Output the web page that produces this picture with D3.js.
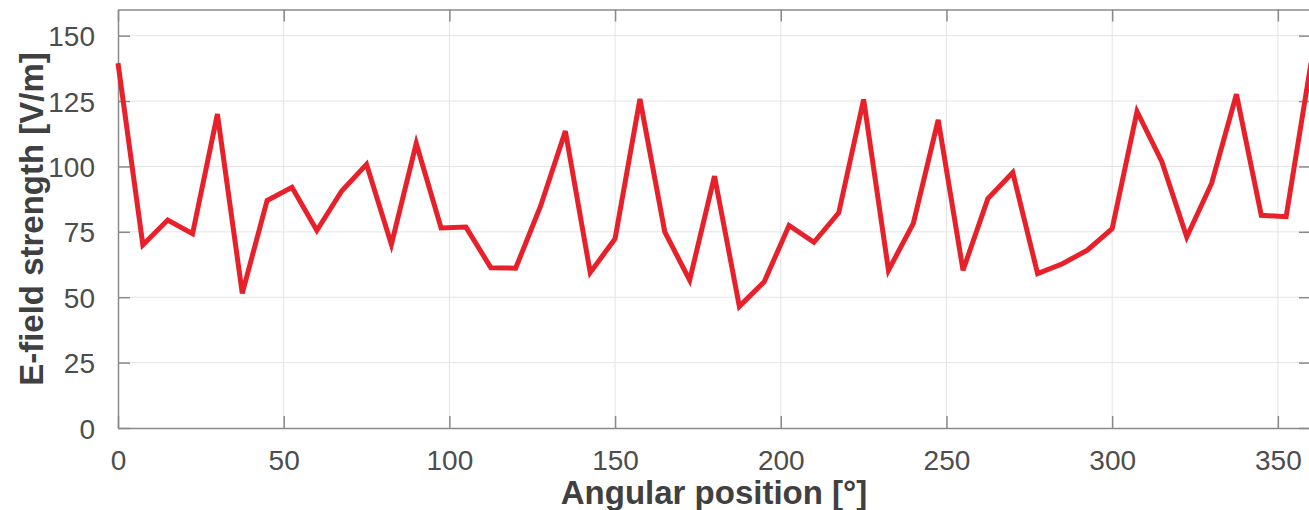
<!DOCTYPE html>
<html>
<head>
<meta charset="utf-8">
<script src="https://cdn.jsdelivr.net/npm/d3@7"></script>
<style>
  body { margin: 0; background: #fff; overflow: hidden; }
  svg { display: block; }
  text { font-family: "Liberation Sans", Arial, Helvetica, sans-serif; }
</style>
</head>
<body>
<div id="chart"></div>
<script>
// Angular positions, every 7.5 degrees
const angles = d3.range(0, 49).map(i => i * 7.5);
// E-field strength [V/m]
const efield = [
  139.5, 70, 79.5, 74.3, 120, 51.5, 87, 92, 75.5, 90.6,
  100.8, 70.2, 108.8, 76.5, 76.8, 61.3, 61.1, 84.8, 113.5, 59.4,
  72.4, 125.8, 75, 56.5, 96.3, 46.5, 55.9, 77.4, 71, 82.3,
  125.6, 60.3, 78.2, 117.8, 60.3, 87.7, 97.7, 59, 62.8, 68,
  76.2, 121, 101.8, 73, 93.5, 127.6, 81.3, 80.8, 139.5
];
const xTicks = [0, 50, 100, 150, 200, 250, 300, 350];
const yTicks = [0, 25, 50, 75, 100, 125, 150];

const width = 1309, height = 510;
const margin = { left: 118, top: 9.5, right: -2, bottom: 82 };
const innerW = width - margin.left - margin.right;
const innerH = height - margin.top - margin.bottom;

const svg = d3.select("#chart").append("svg")
  .attr("width", width)
  .attr("height", height);

const x = d3.scaleLinear().domain([0, 360]).range([margin.left, margin.left + innerW]);
const y = d3.scaleLinear().domain([0, 160]).range([margin.top + innerH, margin.top]);

const axisColor = "#8a8a8a";
const textColor = "#4d4d4d";

// grid
svg.append("g").selectAll("line").data(xTicks.filter(d => d > 0)).join("line")
  .attr("x1", d => x(d)).attr("x2", d => x(d))
  .attr("y1", y(0)).attr("y2", y(160))
  .style("stroke", "#e4e4e4").style("stroke-width", 1);
svg.append("g").selectAll("line").data(yTicks.filter(d => d > 0)).join("line")
  .attr("x1", x(0)).attr("x2", x(360))
  .attr("y1", d => y(d)).attr("y2", d => y(d))
  .style("stroke", "#e4e4e4").style("stroke-width", 1);

// axes (ticks inside, MATLAB box style)
const tickLen = 12;
const axBottom = svg.append("g")
  .attr("transform", `translate(0,${y(0)})`)
  .call(d3.axisBottom(x).tickValues(xTicks).tickSizeInner(-tickLen).tickSizeOuter(0).tickPadding(22));
const axTop = svg.append("g")
  .attr("transform", `translate(0,${y(160)})`)
  .call(d3.axisTop(x).tickValues(xTicks).tickSizeInner(-tickLen).tickSizeOuter(0).tickFormat(""));
const axLeft = svg.append("g")
  .attr("transform", `translate(${x(0)},0)`)
  .call(d3.axisLeft(y).tickValues(yTicks).tickSizeInner(-tickLen).tickSizeOuter(0).tickPadding(23));
const axRight = svg.append("g")
  .attr("transform", `translate(${x(360)},0)`)
  .call(d3.axisRight(y).tickValues(yTicks).tickSizeInner(-tickLen).tickSizeOuter(0).tickFormat(""));

[axBottom, axTop, axLeft, axRight].forEach(g => {
  g.selectAll("path.domain").style("stroke", axisColor).style("stroke-width", 1.5);
  g.selectAll(".tick line").style("stroke", axisColor).style("stroke-width", 1.5);
  g.selectAll(".tick text")
    .style("font-size", "28px")
    .style("fill", textColor)
    .style("font-family", "'Liberation Sans', Arial, sans-serif");
});
axBottom.selectAll(".tick text").attr("dy", "0.71em");
axLeft.selectAll(".tick text").attr("dy", "0.36em");

// data line
const line = d3.line()
  .x((d, i) => x(angles[i]))
  .y(d => y(d));

svg.append("path")
  .datum(efield)
  .attr("d", line)
  .style("fill", "none")
  .style("stroke", "#e8202a")
  .style("stroke-width", 5)
  .style("stroke-linejoin", "miter");

// axis labels
svg.append("text")
  .attr("x", 714)
  .attr("y", 504)
  .attr("text-anchor", "middle")
  .style("font-size", "33px")
  .style("font-weight", "bold")
  .style("fill", "#404040")
  .text("Angular position [°]");

svg.append("text")
  .attr("transform", "translate(43,219) rotate(-90)")
  .attr("text-anchor", "middle")
  .style("font-size", "33px")
  .style("font-weight", "bold")
  .style("fill", "#404040")
  .text("E-field strength [V/m]");
</script>
</body>
</html>
